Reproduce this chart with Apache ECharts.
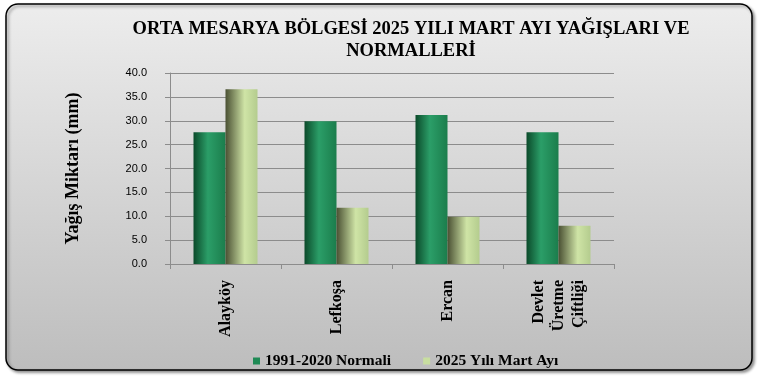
<!DOCTYPE html>
<html>
<head>
<meta charset="utf-8">
<script src="https://cdn.jsdelivr.net/npm/echarts@6/dist/echarts.min.js"></script>
<style>
  html, body { margin: 0; padding: 0; background: #fff; }
  #container { width: 759px; height: 378px; }
</style>
</head>
<body>
<div id="container"></div>
<script>
var stations = ['Alayköy', 'Lefkoşa', 'Ercan', 'Devlet\nÜretme\nÇiftliği'];
var normals = [27.6, 29.9, 31.2, 27.6];
var march2025 = [36.6, 11.8, 9.9, 8.0];
var seriesNames = ['1991-2020 Normali', '2025 Yılı Mart Ayı'];

var serif = '"Liberation Serif", "DejaVu Serif", serif';

var darkGreen = new echarts.graphic.LinearGradient(0, 0, 1, 0, [
    { offset: 0, color: '#0b4a2a' },
    { offset: 0.45, color: '#2b9e68' },
    { offset: 1, color: '#1b7d4c' }
]);
var lightGreen = new echarts.graphic.LinearGradient(0, 0, 1, 0, [
    { offset: 0, color: '#4a5033' },
    { offset: 0.6, color: '#cfe4a6' },
    { offset: 1, color: '#b4cc8e' }
]);

var myChart = echarts.init(document.getElementById('container'));

var option = {
    backgroundColor: '#fff',
    animation: false,
    graphic: [{
        type: 'rect',
        z: -10,
        shape: { x: 6, y: 4, width: 746, height: 366, r: 12 },
        style: {
            fill: new echarts.graphic.LinearGradient(0, 0, 0, 1, [
                { offset: 0, color: '#ededed' },
                { offset: 1, color: '#bdbdbd' }
            ]),
            stroke: '#000',
            lineWidth: 1.5,
            shadowBlur: 3,
            shadowOffsetX: 2,
            shadowOffsetY: 2,
            shadowColor: 'rgba(0,0,0,0.4)'
        }
    }],
    title: {
        text: 'ORTA MESARYA BÖLGESİ 2025 YILI MART AYI YAĞIŞLARI VE\nNORMALLERİ',
        left: 406,
        top: 13,
        textAlign: 'center',
        textStyle: {
            fontFamily: serif,
            fontWeight: 'bold',
            fontSize: 18.5,
            lineHeight: 22,
            color: '#000'
        }
    },
    legend: {
        left: 248,
        top: 348,
        icon: 'rect',
        itemWidth: 7,
        itemHeight: 7,
        itemGap: 32,
        data: [
            { name: seriesNames[0], itemStyle: { color: '#1f8a55' } },
            { name: seriesNames[1], itemStyle: { color: '#c8dea0' } }
        ],
        textStyle: {
            fontFamily: serif,
            fontWeight: 'bold',
            fontSize: 15.5,
            color: '#000'
        }
    },
    grid: {
        left: 170,
        right: 145,
        top: 73,
        bottom: 114
    },
    xAxis: {
        type: 'category',
        data: stations,
        axisLine: { lineStyle: { color: '#8c8c8c', width: 1 } },
        axisTick: { show: true, length: 5, lineStyle: { color: '#8c8c8c' } },
        axisLabel: {
            rotate: 90,
            margin: 16,
            interval: 0,
            fontFamily: serif,
            fontWeight: 'bold',
            fontSize: 16,
            lineHeight: 20,
            color: '#000'
        }
    },
    yAxis: {
        type: 'value',
        min: 0,
        max: 40,
        interval: 5,
        name: 'Yağış Miktarı (mm)',
        nameLocation: 'middle',
        nameGap: 88,
        nameTextStyle: {
            fontFamily: serif,
            fontWeight: 'bold',
            fontSize: 18,
            color: '#000'
        },
        axisLine: { show: true, lineStyle: { color: '#8c8c8c', width: 1 } },
        axisTick: { show: true, length: 5, lineStyle: { color: '#8c8c8c' } },
        splitLine: { lineStyle: { color: '#8c8c8c', width: 1.2 } },
        axisLabel: {
            margin: 23,
            formatter: function (v) { return v.toFixed(1); },
            fontFamily: '"Liberation Sans", Arial, sans-serif',
            fontSize: 11,
            color: '#000'
        }
    },
    series: [{
        name: seriesNames[0],
        type: 'bar',
        barWidth: 32,
        barGap: '0%',
        data: normals,
        itemStyle: { color: darkGreen }
    }, {
        name: seriesNames[1],
        type: 'bar',
        barWidth: 32,
        barGap: '0%',
        data: march2025,
        itemStyle: { color: lightGreen }
    }]
};

myChart.setOption(option);
</script>
</body>
</html>
